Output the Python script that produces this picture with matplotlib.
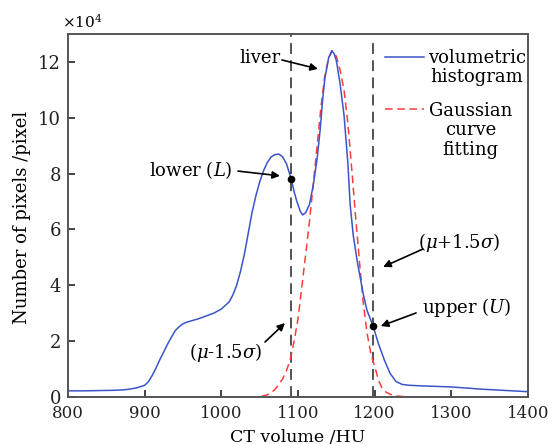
import matplotlib
matplotlib.use("Agg")
import matplotlib.pyplot as plt

plt.rcParams['font.family'] = ['DejaVu Serif']
plt.rcParams['mathtext.fontset'] = 'dejavuserif'

# volumetric histogram (CT value in HU, pixel count in 1e4)
hist_x = [800, 820, 840, 860, 870, 880, 890, 900, 905, 910, 915, 920, 925, 930, 935, 940,
          945, 950, 955, 960, 970, 980, 990, 1000, 1010, 1015, 1020, 1025, 1030, 1035, 1040,
          1045, 1050, 1055, 1060, 1065, 1070, 1075, 1080, 1085, 1091, 1095, 1098, 1103, 1106,
          1110, 1115, 1120, 1125, 1129, 1132, 1135, 1140, 1144, 1147, 1150, 1155, 1160, 1165,
          1168, 1172, 1177, 1181, 1185, 1190, 1198, 1205, 1213, 1220, 1228, 1236, 1245, 1260,
          1280, 1300, 1320, 1340, 1360, 1380, 1400]
hist_y = [0.22, 0.22, 0.23, 0.24, 0.25, 0.28, 0.33, 0.42, 0.55, 0.78, 1.05, 1.35, 1.62, 1.9,
          2.15, 2.38, 2.52, 2.62, 2.68, 2.72, 2.8, 2.9, 3.0, 3.15, 3.4, 3.65, 4.0, 4.5, 5.1,
          5.85, 6.6, 7.2, 7.7, 8.1, 8.4, 8.6, 8.68, 8.7, 8.6, 8.35, 7.82, 7.35, 7.05, 6.65,
          6.52, 6.6, 6.9, 7.6, 8.55, 9.6, 10.6, 11.4, 12.15, 12.4, 12.3, 12.05, 11.2, 10.1,
          8.4, 6.9, 5.8, 4.9, 4.3, 3.7, 3.1, 2.54, 1.9, 1.3, 0.85, 0.55, 0.45, 0.42, 0.4,
          0.38, 0.36, 0.32, 0.28, 0.25, 0.22, 0.19]

# Gaussian curve fitting
gauss_x = [925, 1040, 1050, 1055, 1060, 1065, 1070, 1075, 1080, 1085, 1090, 1095, 1100, 1105,
           1110, 1115, 1120, 1125, 1130, 1135, 1140, 1145, 1150, 1155, 1160, 1165, 1170, 1175,
           1180, 1185, 1190, 1195, 1200, 1205, 1210, 1215, 1220, 1225, 1230, 1240, 1250, 1365]
gauss_y = [0.0, 0.0, 0.02, 0.04, 0.08, 0.15, 0.27, 0.45, 0.65, 0.95, 1.35, 2.0, 2.8, 3.95,
           5.1, 6.3, 7.65, 9.0, 10.4, 11.5, 12.15, 12.4, 12.2, 11.7, 11.0, 9.8, 8.2, 6.5,
           4.9, 3.4, 2.3, 1.55, 1.1, 0.6, 0.3, 0.17, 0.1, 0.06, 0.03, 0.01, 0.0, 0.0]

lower_x, lower_y = 1091, 7.82
upper_x, upper_y = 1198, 2.54

x_ticks = [800, 900, 1000, 1100, 1200, 1300, 1400]
y_ticks = [0, 2, 4, 6, 8, 10, 12]

fig = plt.figure(figsize=(5.48, 4.44), dpi=100)
ax = fig.add_axes([68/548, 47/444, 460/548, 363/444])

ax.axvline(lower_x, color='#444444', lw=1.3, dashes=(6, 3.5))
ax.axvline(upper_x, ymax=0.985, color='#444444', lw=1.3, dashes=(6, 3.5))

ax.plot(gauss_x, gauss_y, color='#ff3b3b', lw=1.1, dashes=(5, 3))
ax.plot(hist_x, hist_y, color='#3a55c8', lw=1.1)

ax.plot([lower_x, upper_x], [lower_y, upper_y], 'o', color='black', ms=4.5)

ax.set_xlim(800, 1400)
ax.set_ylim(0, 13)
ax.set_xticks(x_ticks)
ax.set_yticks(y_ticks)
ax.tick_params(direction='in', length=5, width=1.2, colors='#222222')
ax.tick_params(axis='x', pad=6, labelsize=12)
ax.tick_params(axis='y', pad=5, labelsize=13)
for s in ax.spines.values():
    s.set_color('#555555')
    s.set_linewidth(1.4)

fs = 13
arrow = dict(arrowstyle='-|>', color='black', lw=1.2, mutation_scale=11, shrinkA=0, shrinkB=0)

ax.text(1077, 12.14, 'liver', ha='right', va='center', fontsize=fs)
ax.annotate('', xy=(1126, 11.75), xytext=(1079, 12.07), arrowprops=arrow)

ax.text(1015, 8.13, 'lower ($L$)', ha='right', va='center', fontsize=fs)
ax.annotate('', xy=(1076.5, 7.92), xytext=(1021.7, 8.09), arrowprops=arrow)

ax.text(1054, 1.58, r'($\mu$-1.5$\sigma$)', ha='right', va='center', fontsize=fs)
ax.annotate('', xy=(1083, 2.65), xytext=(1057, 1.97), arrowprops=arrow)

ax.text(1256.5, 5.52, r'($\mu$+1.5$\sigma$)', ha='left', va='center', fontsize=fs)
ax.annotate('', xy=(1211, 4.66), xytext=(1263, 5.3), arrowprops=arrow)

ax.text(1261.7, 3.19, 'upper ($U$)', ha='left', va='center', fontsize=fs)
ax.annotate('', xy=(1208, 2.54), xytext=(1254, 3.01), arrowprops=arrow)

# legend drawn by hand
ax.plot([1213.5, 1264], [12.18, 12.18], color='#3a55c8', lw=1.1)
ax.text(1333, 11.8, 'volumetric\nhistogram', ha='center', va='center', fontsize=fs,
        multialignment='center', linespacing=1.12)
ax.plot([1213.5, 1264], [10.32, 10.32], color='#ff3b3b', lw=1.1, dashes=(5, 3))
ax.text(1325, 9.55, 'Gaussian\ncurve\nfitting', ha='center', va='center', fontsize=fs,
        multialignment='center', linespacing=1.12)

fig.text(62/548, 1 - 22/444, r'$\times10^4$', ha='left', va='center', fontsize=11)
fig.text(22/548, 1 - 217/444, 'Number of pixels /pixel', rotation=90, ha='center',
         va='center', fontsize=13)
fig.text(298/548, 1 - 437/444, 'CT volume /HU', ha='center', va='center', fontsize=12.5)

fig.savefig('out.png', dpi=100)
